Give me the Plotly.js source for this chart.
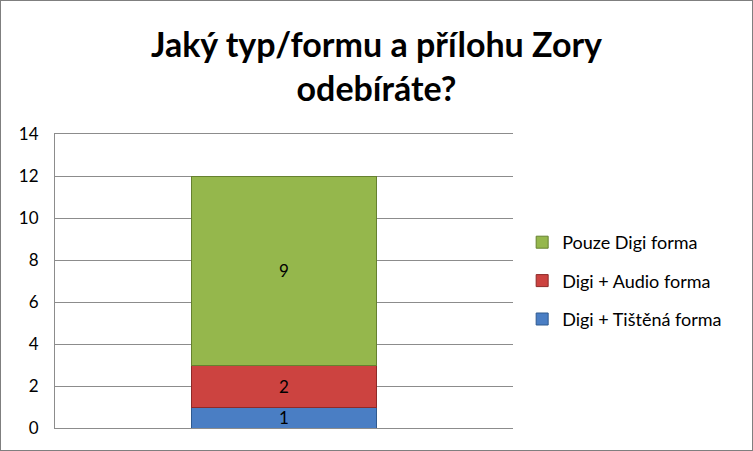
<!DOCTYPE html>
<html>
<head>
<meta charset="utf-8">
<script src="https://cdn.plot.ly/plotly-3.0.1.min.js"></script>
<style>
  body { margin: 0; background: #fff; }
  #main { width: 751px; height: 449px; border: 1px solid #7f7f7f; }
</style>
</head>
<body>
<div id="main"></div>
<script>
const categories = ['']
const seriesNames = ['Digi + Tištěná forma', 'Digi + Audio forma', 'Pouze Digi forma']
const seriesValues = [[1], [2], [9]]
const seriesColors = ['#4A7EC4', '#CC4340', '#95B74C']
const edgeColors = ['#2F5A8F', '#8E2A28', '#66812F']
const yTicks = [0, 2, 4, 6, 8, 10, 12, 14]

const plotData = seriesNames.map((name, i) => ({
  x: categories,
  y: seriesValues[i],
  type: 'bar',
  name: name,
  legendgroup: 'g' + i,
  legendrank: seriesNames.length - i,
  width: 0.406,
  text: seriesValues[i].map(String),
  textposition: 'inside',
  insidetextanchor: 'middle',
  textangle: 0,
  constraintext: 'none',
  textfont: { family: 'Lato, Open Sans, sans-serif', size: 17, color: '#000' },
  marker: { color: seriesColors[i], line: { color: edgeColors[i], width: 1 } },
  hoverinfo: 'none',
}))

Plotly.newPlot('main', plotData, {
  width: 751,
  height: 449,
  barmode: 'stack',
  margin: { l: 54, r: 239, t: 133, b: 22 },
  paper_bgcolor: '#fff',
  plot_bgcolor: '#fff',
  font: { family: 'Lato, Open Sans, sans-serif', color: '#000' },
  title: {
    text: 'Jaký typ/formu a přílohu Zory<br>odebíráte?',
    font: { size: 34, family: 'Lato, Open Sans, sans-serif', weight: 'bold', color: '#000' },
    x: 0.5,
    xref: 'container',
    xanchor: 'center',
    yref: 'container',
    y: 0.875,
    yanchor: 'middle',
  },
  xaxis: {
    showticklabels: false,
    showgrid: false,
    zeroline: false,
    showline: true,
    mirror: true,
    linecolor: '#8c8c8c',
    linewidth: 1,
    range: [-0.5, 0.5],
  },
  yaxis: {
    range: [0, 14],
    tickvals: yTicks,
    ticktext: yTicks.map(String),
    showgrid: true,
    gridcolor: '#8c8c8c',
    gridwidth: 1,
    zeroline: false,
    showline: true,
    linecolor: '#8c8c8c',
    ticks: '',
    ticklen: 0,
    ticklabelstandoff: 12,
    tickfont: { size: 17, color: '#000' },
  },
  showlegend: true,
  legend: {
    x: 1.02,
    xanchor: 'left',
    y: 0.5,
    yanchor: 'middle',
    traceorder: 'grouped',
    tracegroupgap: 12,
    font: { size: 18, color: '#000' },
    itemwidth: 30,
  },
}, {
  staticPlot: true,
})
</script>
</body>
</html>
